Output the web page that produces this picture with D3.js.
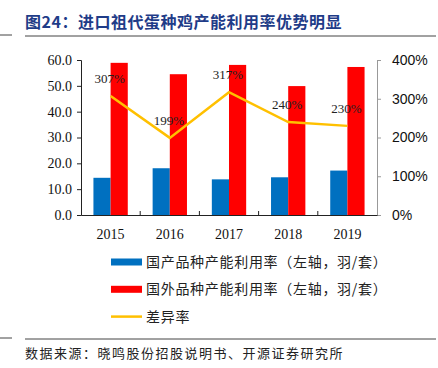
<!DOCTYPE html>
<html>
<head>
<meta charset="utf-8">
<script src="https://cdn.jsdelivr.net/npm/d3@7"></script>
<style>
  body { margin: 0; background: #fff; }
  svg { display: block; }
</style>
</head>
<body>
<div id="chart"></div>
<script>
// data
var years = ["2015", "2016", "2017", "2018", "2019"];
var domestic = [14.4, 18.1, 13.8, 14.6, 17.2];
var imported = [58.9, 54.5, 58.1, 49.9, 57.3];
var diffRate = [307, 199, 317, 240, 230];
var diffLabels = ["307%", "199%", "317%", "240%", "230%"];
var leftTicks = [0, 10, 20, 30, 40, 50, 60];
var rightTicks = [0, 100, 200, 300, 400];
var legendNames = ["国产品种产能利用率（左轴，羽/套）", "国外品种产能利用率（左轴，羽/套）", "差异率"];

var W = 438, H = 368;
var margin = { top: 60, right: 61, bottom: 153, left: 81 },
    width = W - margin.left - margin.right,
    height = H - margin.top - margin.bottom;

var cjk = "'Noto Sans CJK SC', 'Noto Sans', sans-serif";
var serif = "'Liberation Serif', 'DejaVu Serif', serif";
var sans = "'Liberation Sans', Arial, sans-serif";

var svg = d3.select("#chart").append("svg")
    .attr("width", W)
    .attr("height", H);

// title + rules
svg.append("text")
    .attr("x", 25).attr("y", 28)
    .style("font-family", cjk)
    .style("font-weight", "bold")
    .style("font-size", "16px")
    .style("letter-spacing", "0.5px")
    .style("fill", "#1F3C88")
    .text("图24：进口祖代蛋种鸡产能利用率优势明显");
svg.append("line").attr("x1", 25).attr("x2", 436).attr("y1", 36).attr("y2", 36)
    .style("stroke", "#444").style("stroke-width", 1);
svg.append("line").attr("x1", 0).attr("x2", 12).attr("y1", 35).attr("y2", 35)
    .style("stroke", "#444").style("stroke-width", 1);
svg.append("line").attr("x1", 25).attr("x2", 436).attr("y1", 339).attr("y2", 339)
    .style("stroke", "#444").style("stroke-width", 1);
svg.append("line").attr("x1", 0).attr("x2", 12).attr("y1", 338).attr("y2", 338)
    .style("stroke", "#444").style("stroke-width", 1);

svg.append("text")
    .attr("x", 25).attr("y", 358)
    .style("font-family", cjk)
    .style("font-size", "13px")
    .style("letter-spacing", "1.5px")
    .style("fill", "#222")
    .text("数据来源：晓鸣股份招股说明书、开源证券研究所");

var g = svg.append("g")
    .attr("transform", "translate(" + margin.left + "," + margin.top + ")");

// scales
var x = d3.scaleBand().domain(years).range([0, width]);
var y = d3.scaleLinear().domain([0, 60]).range([height, 0]);
var y2 = d3.scaleLinear().domain([0, 400]).range([height, 0]);
var barW = x.bandwidth() * 0.29;

// bars
g.selectAll(".dom")
    .data(years)
    .enter().append("rect")
    .attr("x", function (d) { return x(d) + x.bandwidth() / 2 - barW; })
    .attr("y", function (d, i) { return y(domestic[i]); })
    .attr("width", barW)
    .attr("height", function (d, i) { return height - y(domestic[i]); })
    .style("fill", "#0070C0");

g.selectAll(".imp")
    .data(years)
    .enter().append("rect")
    .attr("x", function (d) { return x(d) + x.bandwidth() / 2; })
    .attr("y", function (d, i) { return y(imported[i]); })
    .attr("width", barW)
    .attr("height", function (d, i) { return height - y(imported[i]) + 1; })
    .style("fill", "#FF0000");

// left axis
var axL = g.append("g")
    .call(d3.axisLeft(y).tickValues(leftTicks).tickSize(4).tickFormat(d3.format(".1f")));
axL.select(".domain").style("stroke", "#222");
axL.selectAll("line").style("stroke", "#222");
axL.selectAll("text")
    .style("font-family", serif).style("font-size", "14px").style("fill", "#111")
    .attr("x", -9);

// right axis
var axR = g.append("g")
    .attr("transform", "translate(" + width + ",0)")
    .call(d3.axisRight(y2).tickValues(rightTicks).tickSize(4).tickFormat(function (d) { return d + "%"; }));
axR.select(".domain").style("stroke", "#999");
axR.selectAll("line").style("stroke", "#999");
axR.selectAll("text")
    .style("font-family", sans).style("font-size", "14px").style("fill", "#111")
    .attr("x", 15);

// bottom axis
var axB = g.append("g")
    .attr("transform", "translate(0," + height + ")")
    .call(d3.axisBottom(x).tickSize(0).tickPadding(14));
axB.select(".domain").style("stroke", "#222");
axB.selectAll("text")
    .style("font-family", serif).style("font-size", "14px").style("fill", "#111");
g.selectAll(".sep")
    .data(years.slice(1))
    .enter().append("line")
    .attr("x1", function (d) { return x(d); })
    .attr("x2", function (d) { return x(d); })
    .attr("y1", height)
    .attr("y2", height - 4)
    .style("stroke", "#222");

// diff line
var line = d3.line()
    .x(function (d, i) { return x(years[i]) + x.bandwidth() / 2; })
    .y(function (d) { return y2(d); });
g.append("path")
    .attr("d", line(diffRate))
    .style("fill", "none")
    .style("stroke", "#FFC000")
    .style("stroke-width", 2.5);

g.selectAll(".lbl")
    .data(diffRate)
    .enter().append("text")
    .attr("x", function (d, i) { return x(years[i]) + x.bandwidth() / 2 - 1; })
    .attr("y", function (d) { return y2(d) - 13; })
    .attr("text-anchor", "middle")
    .style("font-family", serif)
    .style("font-size", "13px")
    .style("fill", "#222")
    .text(function (d, i) { return diffLabels[i]; });

// legend
var legend = svg.append("g").attr("transform", "translate(111,262)");
legendNames.forEach(function (name, i) {
    var row = legend.append("g").attr("transform", "translate(0," + (i * 27.3) + ")");
    if (i < 2) {
        row.append("rect")
            .attr("x", 0).attr("y", -3.5)
            .attr("width", 31).attr("height", 7)
            .style("fill", i === 0 ? "#0070C0" : "#FF0000");
    } else {
        row.append("line")
            .attr("x1", 0).attr("x2", 31).attr("y1", 0).attr("y2", 0)
            .style("stroke", "#FFC000").style("stroke-width", 2.5);
    }
    row.append("text")
        .attr("x", 35).attr("y", 0).attr("dy", "0.35em")
        .style("font-family", cjk)
        .style("font-size", "14px")
        .style("letter-spacing", "0.7px")
        .style("fill", "#222")
        .text(name);
});
</script>
</body>
</html>
